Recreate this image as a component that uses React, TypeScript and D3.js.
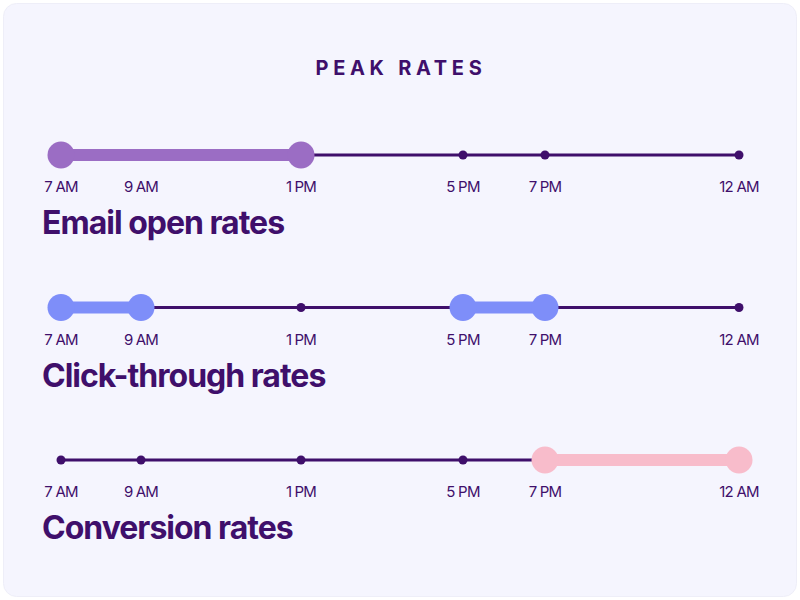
import React from "react";
import * as d3 from "d3";

const hours = [7, 9, 13, 17, 19, 24];
const hourLabels = ["7 AM", "9 AM", "1 PM", "5 PM", "7 PM", "12 AM"];
const hourPositions = [61, 141, 301, 463, 545, 739];
const rowTitles = ["Email open rates", "Click-through rates", "Conversion rates"];
const rowPeaks: [number, number][][] = [
  [[7, 13]],
  [[7, 9], [17, 19]],
  [[19, 24]],
];
const rowColors = ["#9b6dc4", "#7e8ef9", "#f8bccb"];

const W = 800, H = 600;
const dark = "#3f0f6b";

export default function App() {
  const x = d3.scaleLinear().domain(hours).range(hourPositions);
  const y = d3.scalePoint<number>().domain([0, 1, 2]).range([155, 460]);
  return (
    <svg width={W} height={H} style={{ position: "absolute", left: 0, top: 0 }} fontFamily="Inter, sans-serif">
      <rect x={0} y={0} width={W} height={H} fill="#ffffff" />
      <rect x={3.5} y={3.5} width={793} height={593} rx={13} fill="#f5f5fe" stroke="#eeeef8" />
      <text x={401} y={75} textAnchor="middle" fontSize={20} fontWeight={700} letterSpacing={4.7} fill={dark}>PEAK RATES</text>
      {rowTitles.map((t, i) => {
        const cy = y(i)!;
        return (
          <g key={t}>
            <line x1={x(7)} x2={x(24)} y1={cy} y2={cy} stroke={dark} strokeWidth={3} />
            {hours.map((h) => (
              <circle key={h} cx={x(h)} cy={cy} r={4.5} fill={dark} />
            ))}
            {rowPeaks[i].map(([a, b], k) => (
              <g key={k}>
                <line x1={x(a)} x2={x(b)} y1={cy} y2={cy} stroke={rowColors[i]} strokeWidth={12} />
                <circle cx={x(a)} cy={cy} r={13.5} fill={rowColors[i]} />
                <circle cx={x(b)} cy={cy} r={13.5} fill={rowColors[i]} />
              </g>
            ))}
            {hours.map((h, k) => (
              <text key={h} x={x(h)} y={cy + 37} textAnchor="middle" fontSize={15} letterSpacing={-0.8} fill={dark}>{hourLabels[k]}</text>
            ))}
            <text x={42} y={cy + 79} fontSize={32} fontWeight={700} letterSpacing={-1.0} fill={dark}>{t}</text>
          </g>
        );
      })}
    </svg>
  );
}
